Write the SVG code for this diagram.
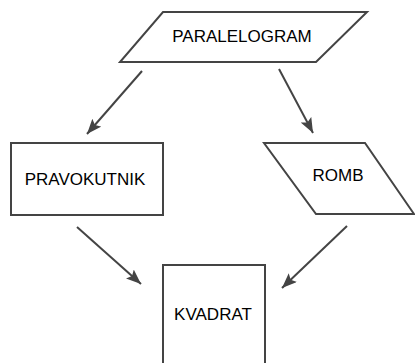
<svg xmlns="http://www.w3.org/2000/svg" width="415" height="363" viewBox="0 0 415 363">
<style>
.shape{fill:#fff;stroke:#444;stroke-width:2}
.edge{stroke:#444;stroke-width:2;fill:none}
text{font-family:"Liberation Sans",Arial,sans-serif;font-size:17px;fill:#000;text-anchor:middle;dominant-baseline:central}
</style>
<defs>
<marker id="ah" markerWidth="16" markerHeight="12" refX="15" refY="6" orient="auto" markerUnits="userSpaceOnUse">
<path d="M0,0 L15,6 L0,12 L3,6 Z" fill="#444"/>
</marker>
</defs>
<rect width="415" height="363" fill="#fff"/>
<g id="edges">
<line class="edge" x1="142" y1="71" x2="87" y2="134" marker-end="url(#ah)"/>
<line class="edge" x1="279" y1="69" x2="313" y2="133" marker-end="url(#ah)"/>
<line class="edge" x1="77" y1="227" x2="141" y2="284" marker-end="url(#ah)"/>
<line class="edge" x1="347" y1="226" x2="282" y2="288" marker-end="url(#ah)"/>
</g>
<g id="paralelogram">
<polygon class="shape" points="163,12 367,12 316,62 120,62"/>
<text x="242" y="36">PARALELOGRAM</text>
</g>
<g id="pravokutnik">
<rect class="shape" x="11" y="143" width="152" height="72"/>
<text x="85" y="179">PRAVOKUTNIK</text>
</g>
<g id="romb">
<polygon class="shape" points="264,143 365,143 414,214 316,214"/>
<text x="338" y="175">ROMB</text>
</g>
<g id="kvadrat">
<rect class="shape" x="163" y="265" width="102" height="110"/>
<text x="213" y="314">KVADRAT</text>
</g>
</svg>
